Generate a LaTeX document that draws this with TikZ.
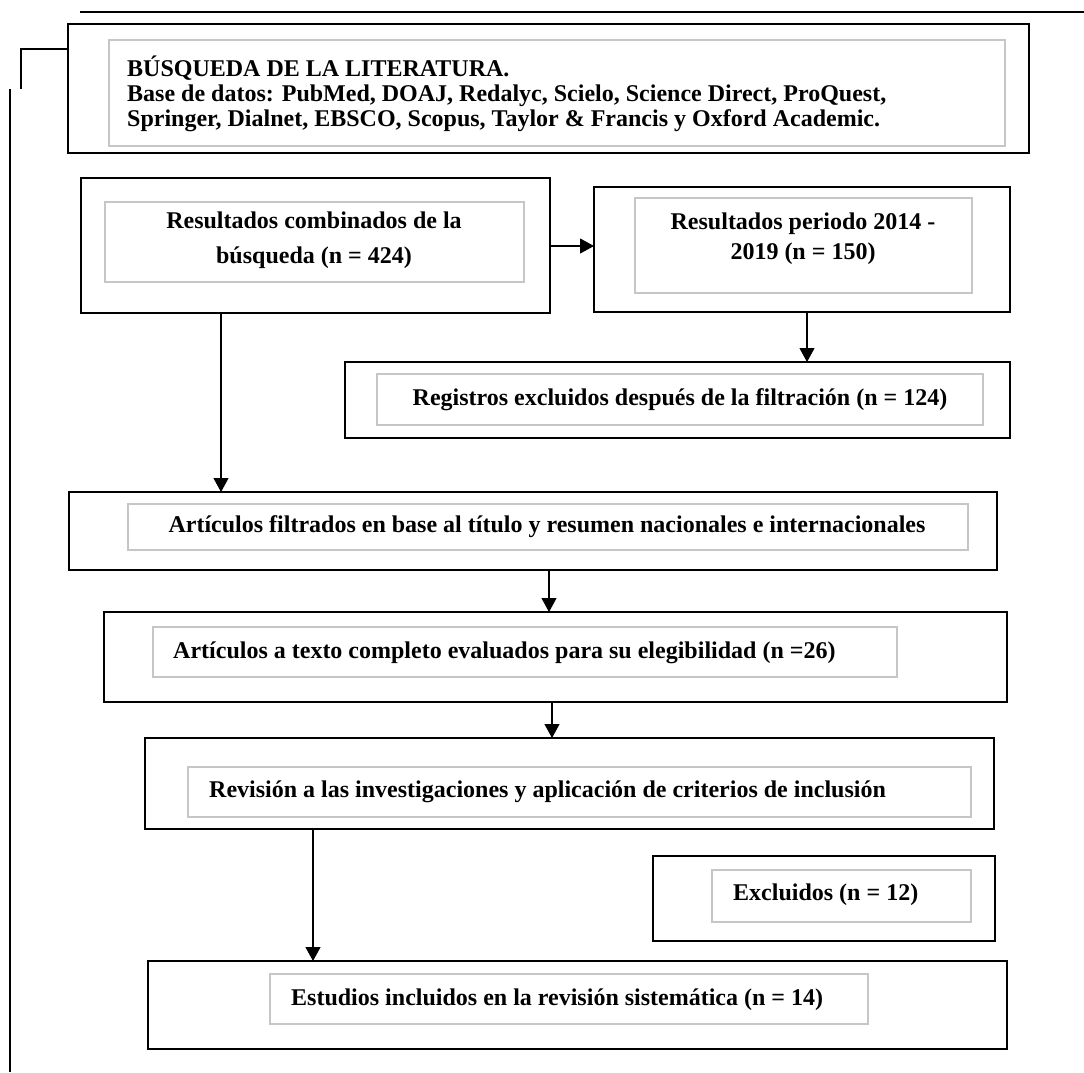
\documentclass[tikz,border=0pt]{standalone}
\usepackage{fontspec}
\setmainfont{Liberation Serif}
\usetikzlibrary{arrows.meta}
\begin{document}
\begin{tikzpicture}[x=1pt,y=-1pt,
  outerbox/.style={draw=black, line width=2.7pt, anchor=north west, inner sep=0pt, outer sep=0pt},
  innerbox/.style={draw=gray!45, line width=1.4pt, anchor=north west, inner sep=0pt, outer sep=0pt},
  lbl/.style={font=\bfseries\fontsize{24}{25}\selectfont, inner sep=0pt},
  arr/.style={line width=1.1pt, -{Triangle[length=14pt,width=15pt]}},
  hrule/.style={line width=2pt}]
\useasboundingbox (0,0) rectangle (1084,1072);

% outer boxes
\node[outerbox, minimum width=961pt, minimum height=129pt] (A) at (68,24) {};
\node[outerbox, minimum width=469pt, minimum height=135pt] (B) at (81,178) {};
\node[outerbox, minimum width=416pt, minimum height=125pt] (C) at (594,187) {};
\node[outerbox, minimum width=665pt, minimum height=76pt] (D) at (345,362) {};
\node[outerbox, minimum width=928pt, minimum height=78pt] (E) at (69,492) {};
\node[outerbox, minimum width=903pt, minimum height=90pt] (F) at (104,612) {};
\node[outerbox, minimum width=849pt, minimum height=91pt] (G) at (145,738) {};
\node[outerbox, minimum width=342pt, minimum height=85pt] (X) at (653,856) {};
\node[outerbox, minimum width=859pt, minimum height=88pt] (H) at (148,961) {};

% inner boxes
\node[innerbox, minimum width=896pt, minimum height=106pt] (Ai) at (109,40) {};
\node[innerbox, minimum width=419pt, minimum height=80pt] (Bi) at (105,202) {};
\node[innerbox, minimum width=337pt, minimum height=95pt] (Ci) at (635,198) {};
\node[innerbox, minimum width=606pt, minimum height=51pt] (Di) at (377,374) {};
\node[innerbox, minimum width=840pt, minimum height=46pt] (Ei) at (128,504) {};
\node[innerbox, minimum width=744pt, minimum height=50pt] (Fi) at (153,627) {};
\node[innerbox, minimum width=783pt, minimum height=50pt] (Gi) at (188,767) {};
\node[innerbox, minimum width=259pt, minimum height=52pt] (Xi) at (712,870) {};
\node[innerbox, minimum width=598pt, minimum height=50pt] (Hi) at (270,974) {};

% texts
\node[lbl, anchor=west, align=left] (At) at (127,94) {BÚSQUEDA DE LA LITERATURA.\\Base de datos: PubMed, DOAJ, Redalyc, Scielo, Science Direct, ProQuest,\\Springer, Dialnet, EBSCO, Scopus, Taylor \& Francis y Oxford Academic.};
\node[lbl, align=center, font=\bfseries\fontsize{24}{35}\selectfont] (Bt) at (314,240) {Resultados combinados de la\\búsqueda (n = 424)};
\node[lbl, align=center, font=\bfseries\fontsize{24}{30}\selectfont] (Ct) at (803,239) {Resultados periodo 2014 -\\2019 (n = 150)};
\node[lbl] (Dt) at (680,400) {Registros excluidos después de la filtración (n = 124)};
\node[lbl] (Et) at (547,527) {Artículos filtrados en base al título y resumen nacionales e internacionales};
\node[lbl, anchor=west] (Ft) at (173,653) {Artículos a texto completo evaluados para su elegibilidad (n =26)};
\node[lbl, anchor=west] (Gt) at (209,792) {Revisión a las investigaciones y aplicación de criterios de inclusión};
\node[lbl, anchor=west] (Xt) at (733,895) {Excluidos (n = 12)};
\node[lbl, anchor=west] (Ht) at (291,1000) {Estudios incluidos en la revisión sistemática (n = 14)};

% connector positions
\coordinate (yBC) at (0,246);
\coordinate (xCD) at (807,0);
\coordinate (xBE) at (221,0);
\coordinate (xEF) at (549,0);
\coordinate (xFG) at (552,0);
\coordinate (xGH) at (313,0);

\draw[arr] (B.east |- yBC) -- (C.west |- yBC);
\draw[arr] (C.south -| xCD) -- (D.north -| xCD);
\draw[arr] (B.south -| xBE) -- (E.north -| xBE);
\draw[arr] (E.south -| xEF) -- (F.north -| xEF);
\draw[arr] (F.south -| xFG) -- (G.north -| xFG);
\draw[arr] (G.south -| xGH) -- (H.north -| xGH);

% rules and bracket
\coordinate (tl) at (80,12);
\coordinate (tr) at (1084,12);
\coordinate (b1) at (21,49);
\coordinate (b2) at (21,89);
\coordinate (v1) at (10,89);
\coordinate (v2) at (10,1072);
\draw[hrule] (tl) -- (tr);
\draw[hrule] (A.west |- b1) -- (b1) -- (b2);
\draw[hrule] (v1) -- (v2);
\end{tikzpicture}
\end{document}
